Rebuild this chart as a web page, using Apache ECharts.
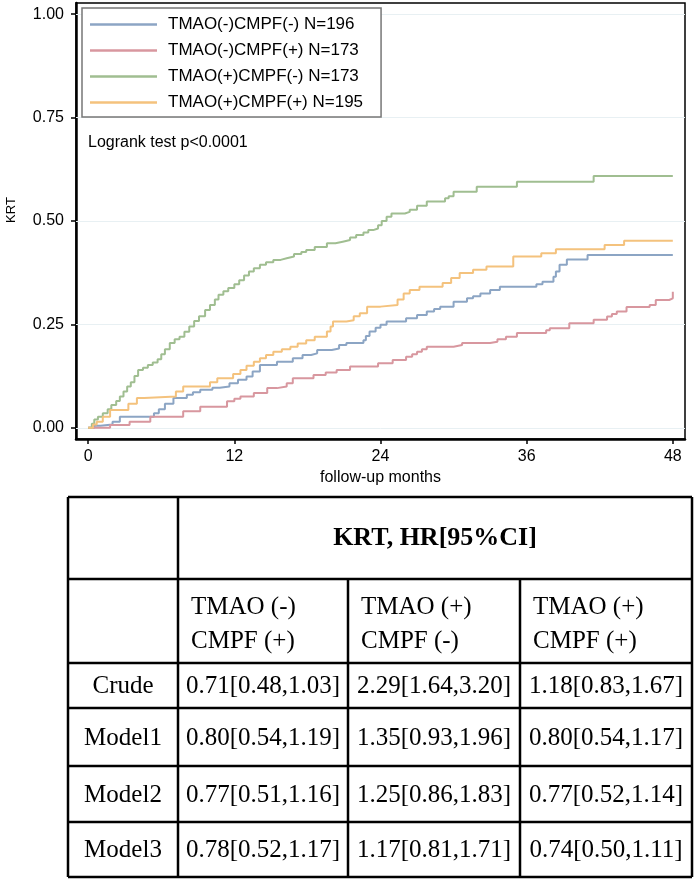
<!DOCTYPE html>
<html>
<head>
<meta charset="utf-8">
<script src="https://cdn.jsdelivr.net/npm/echarts@6/dist/echarts.min.js"></script>
<style>
html,body{margin:0;padding:0;background:#fff;}
#main{width:697px;height:880px;}
</style>
</head>
<body>
<div id="main"></div>
<script>
// ---- data ----
var seriesNames = ['TMAO(-)CMPF(-) N=196','TMAO(-)CMPF(+) N=173','TMAO(+)CMPF(-) N=173','TMAO(+)CMPF(+) N=195'];
var xTicks = [0, 12, 24, 36, 48];
var yTicks = [0, 0.25, 0.5, 0.75, 1.0];

var blueCurve = [[0,0],[0.5,0.005],[1.0,0.008],[2.0,0.015],[2.6,0.027],[5.4,0.035],[5.8,0.045],[6.3,0.058],[7.0,0.072],[8.1,0.08],[8.6,0.086],[9.2,0.092],[10.2,0.097],[10.8,0.1],[11.6,0.108],[12.3,0.116],[13.0,0.124],[13.5,0.136],[14.1,0.152],[15.5,0.16],[16.8,0.168],[17.6,0.176],[18.3,0.18],[18.8,0.188],[20.0,0.192],[20.6,0.2],[21.2,0.205],[22.6,0.212],[22.8,0.222],[23.1,0.233],[23.6,0.242],[24.0,0.249],[24.5,0.257],[26.1,0.265],[27.0,0.273],[27.8,0.281],[28.4,0.287],[28.9,0.293],[30.0,0.305],[31.1,0.313],[31.6,0.318],[32.2,0.325],[33.0,0.333],[33.8,0.341],[36.8,0.347],[37.3,0.353],[38.2,0.365],[38.4,0.378],[38.7,0.394],[39.3,0.407],[41.0,0.418],[48,0.418]];

var redCurve = [[0,0],[1.8,0.007],[3.4,0.015],[5.1,0.027],[7.8,0.04],[9.2,0.051],[11.4,0.064],[12.0,0.07],[12.5,0.076],[13.6,0.084],[14.7,0.096],[15.5,0.1],[16.3,0.108],[16.8,0.12],[18.5,0.128],[19.5,0.134],[20.4,0.14],[21.5,0.148],[23.8,0.156],[25.0,0.164],[26.1,0.172],[26.6,0.178],[27.0,0.184],[27.4,0.19],[27.8,0.196],[30.0,0.2],[30.7,0.205],[33.0,0.208],[33.6,0.214],[34.3,0.22],[35.2,0.229],[37.6,0.236],[37.9,0.241],[39.5,0.253],[41.5,0.261],[42.6,0.269],[43.0,0.275],[43.4,0.281],[44.2,0.292],[46.1,0.297],[46.6,0.309],[47.7,0.313],[48.0,0.329]];

var greenCurve = [[0,0],[0.3,0.01],[0.5,0.02],[0.8,0.027],[1.2,0.035],[1.6,0.045],[1.9,0.055],[2.3,0.065],[2.6,0.076],[2.9,0.088],[3.2,0.1],[3.5,0.11],[3.8,0.125],[4.1,0.14],[4.5,0.145],[4.9,0.152],[5.3,0.158],[5.7,0.166],[6.0,0.178],[6.3,0.19],[6.7,0.205],[7.1,0.214],[7.5,0.22],[7.9,0.232],[8.3,0.245],[8.7,0.258],[9.1,0.27],[9.6,0.285],[10.0,0.297],[10.4,0.31],[10.7,0.322],[11.1,0.33],[11.5,0.338],[12.0,0.347],[12.4,0.357],[12.8,0.368],[13.2,0.378],[13.6,0.386],[14.1,0.394],[14.6,0.4],[15.2,0.406],[15.8,0.41],[16.3,0.414],[16.9,0.42],[17.5,0.425],[17.9,0.43],[18.6,0.437],[19.6,0.446],[20.3,0.45],[20.9,0.454],[21.5,0.46],[22.0,0.466],[22.6,0.472],[23.0,0.478],[23.4,0.482],[23.8,0.49],[24.1,0.5],[24.5,0.51],[24.9,0.518],[26.0,0.522],[26.4,0.527],[27.0,0.537],[27.8,0.547],[29.3,0.555],[29.6,0.56],[30.0,0.571],[31.9,0.583],[35.2,0.595],[41.5,0.609],[48,0.609]];

var orangeCurve = [[0,0],[0.4,0.008],[0.7,0.015],[1.2,0.027],[1.8,0.043],[3.3,0.058],[4.0,0.072],[4.6,0.076],[7.2,0.088],[7.8,0.1],[10.0,0.11],[10.6,0.12],[11.9,0.13],[12.5,0.14],[13.0,0.15],[13.6,0.16],[14.1,0.168],[14.6,0.176],[15.2,0.184],[15.9,0.19],[16.6,0.196],[17.2,0.204],[17.9,0.212],[18.6,0.22],[19.6,0.233],[19.9,0.245],[20.1,0.257],[21.2,0.26],[21.8,0.27],[22.3,0.277],[22.9,0.293],[24.0,0.297],[25.4,0.31],[25.9,0.325],[26.4,0.333],[27.2,0.341],[29.1,0.35],[29.8,0.362],[30.5,0.374],[31.6,0.382],[32.7,0.39],[34.9,0.414],[37.2,0.422],[38.4,0.432],[42.4,0.442],[44.0,0.452],[48,0.452]];

var curves = [blueCurve, redCurve, greenCurve, orangeCurve];
var colors = ['#8ca5c4', '#d8979f', '#a0be91', '#f4c27d'];

var tableTitle = 'KRT, HR[95%CI]';
var groupHeaders = [['TMAO (-)','CMPF (+)'], ['TMAO (+)','CMPF (-)'], ['TMAO (+)','CMPF (+)']];
var rowLabels = ['Crude','Model1','Model2','Model3'];
var hrValues = [
  ['0.71[0.48,1.03]','2.29[1.64,3.20]','1.18[0.83,1.67]'],
  ['0.80[0.54,1.19]','1.35[0.93,1.96]','0.80[0.54,1.17]'],
  ['0.77[0.51,1.16]','1.25[0.86,1.83]','0.77[0.52,1.14]'],
  ['0.78[0.52,1.17]','1.17[0.81,1.71]','0.74[0.50,1.11]']
];
var annotation = 'Logrank test p<0.0001';

// ---- layout ----
var sans = '"Liberation Sans", Arial, Helvetica, sans-serif';
var serif = '"Liberation Serif", "Times New Roman", serif';
var tL = 68, tR = 692, tTop = 497, tH1 = 579, tH2 = 663;
var rowBounds = [663, 708, 766, 822, 877];
var colBounds = [178, 348, 520, 692];

var graphics = [];
function hline(y, x1, x2){ graphics.push({type:'line', shape:{x1:x1,y1:y,x2:x2,y2:y}, style:{stroke:'#000', lineWidth:2.5}, silent:true}); }
function vline(x, y1, y2){ graphics.push({type:'line', shape:{x1:x,y1:y1,x2:x,y2:y2}, style:{stroke:'#000', lineWidth:2.5}, silent:true}); }
function txt(s, x, y, font, align){ graphics.push({type:'text', x:x, y:y, silent:true, style:{text:s, font:font, fill:'#000', textAlign:align||'center', textVerticalAlign:'middle'}}); }

// chart annotations
txt(annotation, 88, 143, '16px ' + sans, 'left');
graphics.push({type:'text', x:11, y:210, rotation:Math.PI/2, silent:true, style:{text:'KRT', font:'13px ' + sans, fill:'#000', textAlign:'center', textVerticalAlign:'middle'}});

// table lines
hline(tTop, tL, tR); hline(tH1, tL, tR);
rowBounds.forEach(function(y){ hline(y, tL, tR); });
vline(tL, tTop, 877); vline(colBounds[0], tTop, 877);
vline(colBounds[1], tH1, 877); vline(colBounds[2], tH1, 877); vline(tR, tTop, 877);

txt(tableTitle, (colBounds[0] + tR) / 2, 538, 'bold 26px ' + serif);
groupHeaders.forEach(function(g, i){
  txt(g[0], colBounds[i] + 13, 607, '25px ' + serif, 'left');
  txt(g[1], colBounds[i] + 13, 641, '25px ' + serif, 'left');
});
rowLabels.forEach(function(r, i){
  var cy = (rowBounds[i] + rowBounds[i+1]) / 2 + 1;
  txt(r, (tL + colBounds[0]) / 2, cy, '25px ' + serif);
  hrValues[i].forEach(function(v, j){
    txt(v, (colBounds[j] + colBounds[j+1]) / 2, cy, '25px ' + serif);
  });
});

var series = curves.map(function(c, i){
  var s = {
    name: seriesNames[i], type:'line', step:'end', data:c, showSymbol:false,
    lineStyle:{color:colors[i], width:2}, itemStyle:{color:colors[i]}, z: 3 + i
  };
  if (i === 0) {
    s.markLine = {silent:true, symbol:'none', label:{show:false}, animation:false,
      lineStyle:{color:'#e8f0f3', width:1, type:'solid'},
      data: yTicks.map(function(v){ return {yAxis:v}; }), z:1};
  }
  return s;
});

var chart = echarts.init(document.getElementById('main'), null, {renderer:'canvas'});
chart.setOption({
  animation:false,
  backgroundColor:'#fff',
  grid:{left:76, top:3, right:12, bottom:441, show:true, borderColor:'#000', borderWidth:1.5, backgroundColor:'transparent'},
  legend:{
    orient:'vertical', left:82, top:8, data:seriesNames, icon:'rect', itemWidth:67, itemHeight:2.5, itemGap:9,
    padding:[8,18,6,8], borderColor:'#777', borderWidth:1.5, backgroundColor:'#fff', selectedMode:false,
    textStyle:{fontSize:17, fontFamily:sans, color:'#000', lineHeight:17, padding:[0,0,0,6]}
  },
  xAxis:{
    type:'value', min:-1, max:49,
    axisLine:{show:true, onZero:false, lineStyle:{color:'#000', width:2.5}},
    axisTick:{show:true, customValues:xTicks, length:5, lineStyle:{color:'#000', width:1.5}},
    axisLabel:{customValues:xTicks, fontSize:16, fontFamily:sans, color:'#000', margin:10},
    splitLine:{show:false},
    name:'follow-up months', nameLocation:'middle', nameGap:31,
    nameTextStyle:{fontSize:16, fontFamily:sans, color:'#000'}
  },
  yAxis:{
    type:'value', min:-0.027, max:1.027,
    axisLine:{show:true, onZero:false, lineStyle:{color:'#000', width:2.5}},
    axisTick:{show:true, customValues:yTicks, length:5, lineStyle:{color:'#000', width:1.5}},
    axisLabel:{customValues:yTicks, fontSize:16, fontFamily:sans, color:'#000', margin:12,
      formatter:function(v){ return v.toFixed(2); }},
    splitLine:{show:false}
  },
  series: series,
  graphic: graphics
});
</script>
</body>
</html>
